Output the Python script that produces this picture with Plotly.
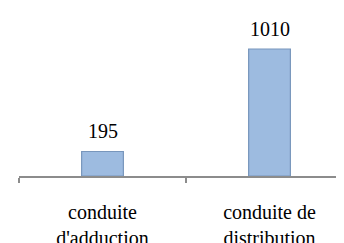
import plotly.graph_objects as go

categories = ["conduite<br>d'adduction", "conduite de<br>distribution"]
values = [195, 1010]
value_labels = ["195", "1010"]

fig = go.Figure()
fig.add_trace(go.Bar(
    x=categories, y=values, width=0.25,
    marker=dict(color="#9DBBE0", line=dict(color="#7896BC", width=1.2)),
    hoverinfo="skip",
))
for c, v, t in zip(categories, values, value_labels):
    fig.add_annotation(x=c, y=v, text=t, showarrow=False, yanchor="bottom",
                       yshift=7, font=dict(family="Liberation Serif", size=20, color="black"))

fig.update_layout(
    width=344, height=243,
    margin=dict(l=11, r=0, t=2, b=75, autoexpand=False),
    paper_bgcolor="white", plot_bgcolor="white",
    showlegend=False,
    font=dict(family="Liberation Serif", size=20, color="black"),
    xaxis=dict(range=[-0.5, 1.494], showline=True, linecolor="#8C8C8C", linewidth=1.5,
               ticks="outside", tickson="boundaries", ticklen=5, tickcolor="#8C8C8C",
               tickwidth=1.5, ticklabelstandoff=17, showgrid=False, automargin=False),
    yaxis=dict(range=[0, 1320], visible=False, showgrid=False, zeroline=False),
)
fig.write_html("out.html")
